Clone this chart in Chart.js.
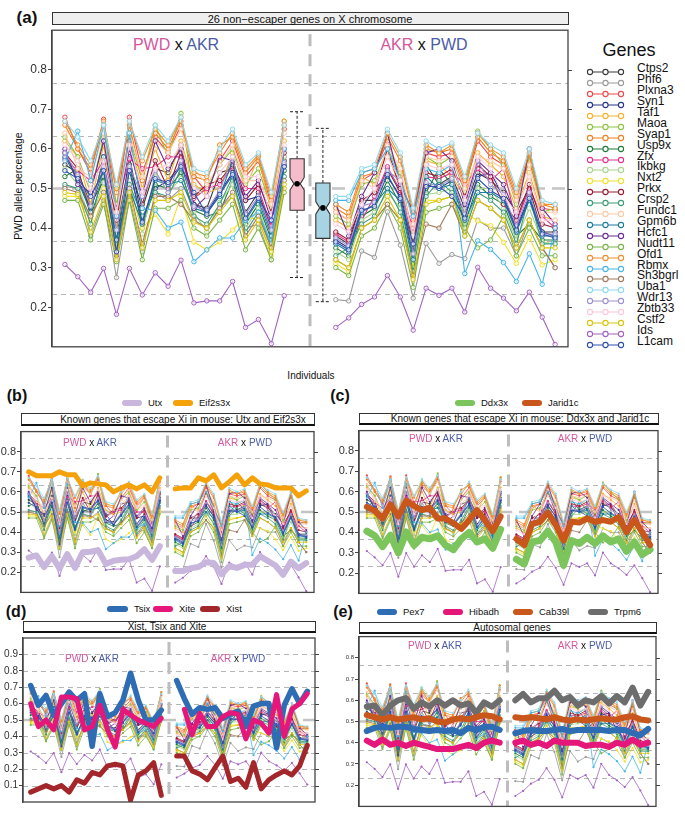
<!DOCTYPE html>
<html>
<head>
<meta charset="utf-8">
<script src="https://cdn.jsdelivr.net/npm/chart.js@4.4.1/dist/chart.umd.min.js"></script>
<style>
  body { margin: 0; background: #fff; font-family: "Liberation Sans", Arial, sans-serif; }
  #page { position: relative; width: 685px; height: 818px; overflow: hidden; background: #fff; }
  canvas { position: absolute; }
  .t { position: absolute; white-space: nowrap; transform: translate(-50%, -50%); color: #111; line-height: 1; }
  .l { position: absolute; white-space: nowrap; transform: translate(0, -50%); color: #111; line-height: 1; }
  .strip { position: absolute; box-sizing: border-box; border: 1px solid #333; }
  .sw { position: absolute; border-radius: 3px; }
</style>
</head>
<body>
<div id="page"></div>
<script>
// ---- data ----
const genes = ['Ctps2','Phf6','Plxna3','Syn1','Taf1','Maoa','Syap1','Usp9x','Zfx','Ikbkg','Nxt2','Prkx','Crsp2',
  'Fundc1','Gpm6b','Hcfc1','Nudt11','Ofd1','Rbmx','Sh3bgrl','Uba1','Wdr13','Zbtb33','Cstf2','Ids','L1cam'];
const geneColors = ['#3a3a3a','#9a9a9a','#f0484a','#27358a','#f6b22c','#8cc43f','#f0801f','#1f7a36','#e8318a',
  '#a8d48c','#f2e02a','#9a1c32','#3d9b78','#fcc9a2','#1a7d9e','#6b2c91','#78b545','#f08d2c','#45b5e8','#a27a5b',
  '#8fd9ee','#9d90d1','#f9c9d9','#d9c40a','#a262c0','#2f4fb0'];

// 18 PWD x AKR individuals, then 18 AKR x PWD individuals
const ctps2   = [.56,.54,.46,.52,.40,.56,.45,.55,.54,.61,.46,.45,.54,.55,.44,.49,.40,.57, .38,.36,.47,.47,.55,.49,.34,.56,.51,.53,.45,.54,.52,.49,.44,.50,.39,.39];
const phf6    = [.505,.50,.38,.47,.275,.475,.34,.49,.47,.50,.42,.40,.45,.48,.40,.41,.32,.50, .219,.216,.342,.326,.441,.357,.223,.361,.311,.333,.323,.42,.40,.40,.33,.42,.35,.30];
const plxna3  = [.68,.60,.54,.675,.45,.68,.54,.63,.59,.66,.53,.49,.57,.62,.53,.57,.46,.65, .44,.42,.52,.54,.62,.53,.42,.59,.58,.59,.50,.62,.58,.56,.47,.57,.45,.445];
const syn1    = [.59,.52,.45,.55,.37,.58,.42,.50,.52,.56,.46,.44,.49,.54,.47,.48,.39,.56, .37,.35,.45,.50,.53,.48,.33,.51,.50,.52,.43,.53,.54,.48,.40,.48,.39,.38];
const taf1    = [.62,.58,.46,.61,.40,.62,.50,.60,.52,.62,.51,.49,.50,.59,.50,.58,.44,.62, .42,.40,.53,.51,.59,.50,.39,.57,.56,.53,.48,.59,.56,.53,.45,.54,.43,.42];
const maoa    = [.63,.58,.49,.63,.46,.63,.52,.66,.58,.69,.48,.50,.56,.60,.51,.55,.45,.67, .43,.41,.51,.52,.60,.54,.37,.58,.56,.58,.49,.645,.60,.56,.46,.58,.44,.45];
const syap1   = [.66,.60,.55,.66,.49,.66,.52,.64,.60,.67,.53,.52,.61,.63,.54,.58,.47,.66, .45,.43,.53,.54,.63,.57,.43,.60,.59,.60,.51,.63,.59,.57,.48,.585,.46,.45];
const usp9x   = [.53,.55,.43,.53,.36,.56,.40,.51,.50,.54,.445,.43,.44,.52,.41,.46,.37,.545, .35,.33,.43,.45,.52,.46,.31,.49,.55,.51,.41,.51,.48,.46,.38,.41,.37,.37];
const zfx     = [.575,.545,.52,.57,.45,.575,.55,.555,.58,.58,.475,.50,.51,.555,.50,.50,.405,.58, .385,.365,.42,.48,.555,.495,.40,.53,.525,.54,.51,.55,.52,.55,.415,.50,.43,.40];
const ikbkg   = [.55,.51,.42,.515,.35,.52,.385,.54,.49,.525,.44,.39,.465,.51,.40,.45,.36,.58, .34,.32,.42,.44,.49,.45,.30,.485,.49,.50,.40,.50,.50,.45,.37,.45,.365,.36];
const nxt2    = [.48,.48,.42,.50,.34,.50,.40,.435,.385,.48,.365,.345,.365,.395,.43,.42,.33,.50, .31,.29,.40,.42,.46,.42,.30,.47,.47,.48,.44,.418,.406,.364,.311,.376,.307,.32];
const prkx    = [.59,.55,.44,.58,.42,.62,.46,.57,.50,.59,.48,.51,.52,.56,.47,.51,.44,.59, .39,.37,.47,.49,.60,.50,.36,.54,.53,.55,.48,.56,.53,.46,.42,.51,.41,.40];
const crsp2   = [.51,.50,.41,.55,.34,.51,.43,.49,.48,.55,.43,.41,.46,.53,.39,.44,.35,.53, .33,.35,.41,.43,.50,.44,.29,.48,.52,.49,.39,.49,.47,.44,.36,.48,.36,.36];
const fundc1  = [.64,.55,.53,.64,.44,.64,.53,.62,.59,.65,.55,.51,.56,.61,.52,.52,.46,.64, .44,.42,.52,.50,.61,.55,.41,.58,.57,.58,.50,.58,.57,.55,.47,.56,.44,.44];
const gpm6b   = [.58,.52,.44,.58,.37,.50,.41,.52,.51,.52,.45,.44,.48,.57,.42,.47,.38,.555, .36,.34,.44,.46,.50,.47,.32,.53,.50,.51,.42,.49,.49,.47,.39,.47,.38,.38];
const hcfc1   = [.60,.51,.49,.62,.43,.60,.48,.62,.55,.60,.45,.48,.58,.57,.48,.52,.42,.60, .46,.38,.48,.54,.64,.51,.44,.59,.60,.57,.46,.57,.54,.51,.43,.60,.45,.41];
const nudt11  = [.47,.47,.37,.46,.315,.47,.32,.45,.45,.47,.40,.38,.42,.46,.345,.40,.32,.49, .30,.28,.38,.40,.46,.40,.25,.44,.45,.46,.40,.35,.37,.43,.33,.40,.33,.33];
const ofd1    = [.67,.61,.56,.67,.50,.67,.57,.65,.61,.68,.54,.53,.59,.64,.55,.585,.48,.67, .46,.44,.54,.55,.64,.58,.44,.61,.59,.61,.52,.64,.60,.58,.49,.59,.46,.46];
const rbmx    = [.57,.645,.52,.66,.43,.64,.45,.445,.40,.415,.315,.345,.375,.375,.42,.44,.36,.60, .47,.47,.54,.55,.60,.52,.43,.55,.54,.56,.285,.368,.346,.313,.265,.335,.258,.40];
const sh3bgrl = [.50,.49,.43,.49,.33,.50,.36,.48,.48,.46,.42,.40,.45,.49,.38,.43,.35,.52, .32,.30,.40,.42,.46,.42,.28,.41,.40,.46,.38,.47,.45,.42,.35,.42,.35,.30];
const uba1    = [.67,.63,.57,.66,.51,.67,.58,.66,.62,.68,.55,.54,.60,.65,.56,.59,.49,.66, .48,.48,.55,.56,.65,.59,.45,.62,.60,.615,.53,.64,.61,.59,.50,.60,.47,.46];
const wdr13   = [.59,.535,.455,.555,.395,.555,.48,.545,.49,.57,.455,.445,.495,.58,.435,.48,.395,.565, .375,.355,.455,.465,.545,.52,.335,.515,.505,.525,.435,.57,.51,.485,.405,.49,.385,.385];
const zbtb33  = [.61,.57,.50,.57,.44,.61,.49,.55,.56,.61,.50,.48,.54,.58,.53,.53,.43,.61, .41,.39,.46,.50,.58,.52,.38,.56,.55,.56,.47,.58,.55,.48,.44,.53,.42,.42];
const cstf2   = [.49,.485,.39,.48,.32,.49,.35,.47,.47,.49,.415,.40,.44,.48,.37,.42,.34,.51, .32,.30,.40,.42,.48,.42,.27,.46,.47,.48,.38,.47,.45,.42,.35,.42,.35,.35];
const ids     = [.308,.277,.238,.298,.182,.298,.231,.287,.253,.319,.211,.216,.216,.265,.149,.169,.108,.229, .149,.173,.207,.226,.28,.226,.142,.248,.23,.248,.188,.301,.248,.223,.191,.238,.175,.106];
const l1cam   = [.545,.525,.48,.545,.34,.545,.415,.525,.515,.555,.49,.435,.485,.535,.425,.475,.42,.555, .365,.345,.445,.455,.535,.475,.36,.505,.505,.48,.425,.525,.495,.475,.395,.475,.385,.375];
const geneValues = [ctps2, phf6, plxna3, syn1, taf1, maoa, syap1, usp9x, zfx, ikbkg, nxt2, prkx, crsp2,
  fundc1, gpm6b, hcfc1, nudt11, ofd1, rbmx, sh3bgrl, uba1, wdr13, zbtb33, cstf2, ids, l1cam];

// boxplots of all genes: min, q1, median, q3, max
const pwdAkrBox = [0.275, 0.445, 0.512, 0.575, 0.694];
const akrPwdBox = [0.214, 0.374, 0.451, 0.514, 0.652];

// highlighted genes
const utx     = [.273,.284,.226,.28,.22,.29,.222,.30,.302,.31,.242,.257,.262,.265,.28,.315,.262,.33, .206,.206,.22,.226,.25,.246,.19,.23,.222,.237,.237,.28,.257,.234,.188,.253,.22,.246];
const eif2s3x = [.70,.68,.68,.68,.70,.685,.685,.63,.645,.64,.635,.60,.62,.635,.615,.635,.60,.67, .615,.62,.62,.67,.655,.685,.62,.65,.685,.635,.67,.64,.635,.62,.62,.62,.58,.605];
const ddx3x   = [.406,.383,.33,.386,.30,.402,.337,.376,.368,.383,.337,.315,.368,.40,.353,.368,.322,.414, .268,.245,.353,.36,.406,.353,.238,.36,.345,.376,.345,.383,.353,.368,.307,.353,.291,.315];
const jarid1c = [.525,.506,.468,.537,.478,.555,.529,.509,.521,.468,.468,.445,.417,.46,.509,.46,.406,.478, .368,.337,.442,.452,.498,.437,.36,.452,.448,.468,.452,.46,.452,.475,.40,.46,.40,.337];
const tsix    = [.71,.59,.65,.53,.60,.67,.62,.66,.34,.66,.52,.545,.62,.785,.62,.50,.50,.56, .74,.63,.535,.575,.565,.575,.51,.535,.555,.46,.585,.60,.60,.33,.59,.69,.60,.675];
const xite    = [.60,.46,.50,.44,.64,.64,.63,.44,.46,.59,.44,.335,.565,.53,.50,.48,.46,.51, null,.565,.41,.54,.46,.46,.52,.545,.535,.385,.50,.48,.42,.655,.40,.565,.60,.66];
const xist    = [.06,.08,.10,.08,.10,.06,.135,.115,.18,.165,.22,.23,.22,.01,.165,.19,.24,.04, .28,.28,.19,.17,.135,.21,.28,.125,.145,.09,.24,.08,.135,.165,.19,.165,.22,.345];
const pex7    = [.455,.47,.475,.47,.475,.475,.465,.46,.455,.46,.455,.46,.445,.47,.46,.475,.475,.46, .445,.455,.46,.455,.455,.46,.465,.455,.46,.46,.46,.46,.455,.46,.46,.445,.435,.465];
const hibadh  = [.41,.39,.415,.39,.40,.385,.40,.39,.38,.37,.37,.37,.38,.39,.375,.40,.41,.40, .40,.41,.39,.40,.385,.41,.40,.40,.40,.385,.39,.39,.38,.40,.39,.415,.39,.40];
const cab39l  = [.53,.52,.51,.52,.51,.515,.52,.51,.515,.50,.495,.51,.515,.51,.52,.53,.525,.51, .52,.515,.52,.515,.51,.52,.51,.505,.51,.505,.51,.515,.51,.51,.52,.525,.51,.505];
const trpm6   = [.57,.575,.53,.575,.60,.61,.56,.59,.57,.60,.575,.60,.575,.585,.54,.59,.57,.60, .60,.63,.59,.61,.61,.645,.60,.615,.575,.60,.59,.62,.585,.62,.59,.66,.575,.64];

const yTicks = [0.2, 0.3, 0.4, 0.5, 0.6, 0.7, 0.8];
const yTicksD = [0.1, 0.2, 0.3, 0.4, 0.5, 0.6, 0.7, 0.8, 0.9];
const refLines = [0.233, 0.367, 0.633, 0.767];
const refLinesD = [0.1, 0.2, 0.3, 0.4, 0.6, 0.7, 0.8, 0.9];

// ---- helpers ----
const page = document.getElementById('page');
const FONT = '"Liberation Sans", Arial, sans-serif';

function text(html, x, y, size, cls, extra) {
  const d = document.createElement('div');
  d.className = cls || 't';
  d.style.left = x + 'px';
  d.style.top = y + 'px';
  d.style.fontSize = size + 'px';
  d.innerHTML = html;
  if (extra) Object.assign(d.style, extra);
  page.appendChild(d);
  return d;
}

function strip(x, y, w, h, bg, thick) {
  const d = document.createElement('div');
  d.className = 'strip';
  Object.assign(d.style, { left: x + 'px', top: y + 'px', width: w + 'px', height: h + 'px', background: bg });
  if (thick) d.style.borderBottom = '2px solid #111';
  page.appendChild(d);
}

function swatch(x, y, w, color, label, size) {
  const s = document.createElement('div');
  s.className = 'sw';
  Object.assign(s.style, { left: x + 'px', top: (y - 3) + 'px', width: w + 'px', height: '6px', background: color });
  page.appendChild(s);
  text(label, x + w + 6, y, size, 'l');
}

const PINK = '#d4579c', BLUE = '#4a5ca8';
const pwdAkr = `<span style="color:${PINK}">PWD</span> x <span style="color:${BLUE}">AKR</span>`;
const akrPwd = `<span style="color:${PINK}">AKR</span> x <span style="color:${BLUE}">PWD</span>`;

function toPoints(vals, rightStart) {
  const pts = [];
  vals.forEach((v, i) => {
    if (i === 18) pts.push({ x: rightStart - 1, y: null });
    pts.push({ x: i < 18 ? i + 1 : rightStart + i - 18, y: v });
  });
  return pts;
}

function bundle(rightStart, big) {
  return genes.map((g, k) => ({
    label: g,
    data: toPoints(geneValues[k], rightStart),
    borderColor: geneColors[k],
    borderWidth: big ? 1.1 : 0.8,
    pointRadius: big ? 2.2 : 1.1,
    pointBorderWidth: big ? 1 : 0,
    pointBorderColor: geneColors[k],
    pointBackgroundColor: big ? 'rgba(255,255,255,0.65)' : geneColors[k],
    spanGaps: false
  })).reverse();
}

function thick(label, vals, color, w, rightStart) {
  return {
    label, data: toPoints(vals, rightStart), borderColor: color, borderWidth: w,
    pointRadius: 0, borderJoinStyle: 'round', borderCapStyle: 'round', spanGaps: false
  };
}

function hline(ctx, x1, y1, x2, y2) {
  ctx.beginPath(); ctx.moveTo(x1, y1); ctx.lineTo(x2, y2); ctx.stroke();
}

const decor = {
  id: 'decor',
  beforeDatasetsDraw(chart, args, o) {
    const { ctx, chartArea: a, scales: { x, y } } = chart;
    ctx.save();
    ctx.beginPath(); ctx.rect(a.left, a.top, a.right - a.left, a.bottom - a.top); ctx.clip();
    ctx.strokeStyle = '#b5b5b5'; ctx.lineWidth = 1; ctx.setLineDash([5, 4]);
    o.refLines.forEach(v => {
      const py = Math.round(y.getPixelForValue(v)) + 0.5;
      hline(ctx, a.left, py, a.right, py);
    });
    ctx.strokeStyle = '#c4c4c4'; ctx.lineWidth = 2.6; ctx.setLineDash([13, 7]);
    const my = y.getPixelForValue(0.5);
    hline(ctx, a.left, my, a.right, my);
    ctx.strokeStyle = '#bdbdbd'; ctx.lineWidth = 3; ctx.setLineDash([12, 8]);
    const dx = x.getPixelForValue(o.divider);
    hline(ctx, dx, a.top + 4, dx, a.bottom);
    ctx.restore();
  },
  afterDatasetsDraw(chart, args, o) {
    const { ctx, chartArea: a, scales: { x, y } } = chart;
    ctx.save();
    (o.boxes || []).forEach(b => {
      const cx = x.getPixelForValue(b.slot);
      const hw = x.getPixelForValue(b.slot + 0.55) - cx;
      const [mn, q1, md, q3, mx] = b.stats.map(v => y.getPixelForValue(v));
      const n1 = y.getPixelForValue(b.stats[2] + 0.016), n2 = y.getPixelForValue(b.stats[2] - 0.016);
      ctx.strokeStyle = '#222'; ctx.lineWidth = 1; ctx.setLineDash([3, 2]);
      hline(ctx, cx, q3, cx, mx); hline(ctx, cx, q1, cx, mn);
      hline(ctx, cx - hw, mx, cx + hw, mx); hline(ctx, cx - hw, mn, cx + hw, mn);
      ctx.setLineDash([]);
      ctx.beginPath();
      ctx.moveTo(cx - hw, q3); ctx.lineTo(cx + hw, q3); ctx.lineTo(cx + hw, n1); ctx.lineTo(cx + hw * 0.45, md);
      ctx.lineTo(cx + hw, n2); ctx.lineTo(cx + hw, q1); ctx.lineTo(cx - hw, q1); ctx.lineTo(cx - hw, n2);
      ctx.lineTo(cx - hw * 0.45, md); ctx.lineTo(cx - hw, n1); ctx.closePath();
      ctx.fillStyle = b.fill; ctx.fill(); ctx.strokeStyle = '#333'; ctx.lineWidth = 1.1; ctx.stroke();
      ctx.beginPath(); ctx.arc(cx, md, 2.8, 0, Math.PI * 2); ctx.fillStyle = '#000'; ctx.fill();
    });
    ctx.strokeStyle = '#444'; ctx.lineWidth = 1.3; ctx.setLineDash([]);
    ctx.strokeRect(a.left, a.top, a.right - a.left, a.bottom - a.top);
    ctx.lineWidth = 1;
    o.ticks.forEach(v => {
      const py = Math.round(y.getPixelForValue(v)) + 0.5;
      hline(ctx, a.right, py, a.right + 4, py);
    });
    ctx.restore();
  }
};

function makePanel(p) {
  const PT = 2, PR = 6, PB = 2;
  const W = p.axisW + p.w + PR, H = p.h + PT + PB;
  const c = document.createElement('canvas');
  c.width = W; c.height = H;
  Object.assign(c.style, { left: (p.left - p.axisW) + 'px', top: (p.top - PT) + 'px', width: W + 'px', height: H + 'px' });
  page.appendChild(c);
  new Chart(c, {
    type: 'line',
    data: { datasets: p.datasets },
    options: {
      responsive: false, animation: false, events: [],
      layout: { padding: { top: PT, right: PR, bottom: PB, left: 0 } },
      plugins: {
        legend: { display: false }, tooltip: { enabled: false },
        decor: { refLines: p.refLines, divider: p.divider, boxes: p.boxes, ticks: p.ticks }
      },
      scales: {
        x: { type: 'linear', min: 0, max: p.xMax, display: false },
        y: {
          min: p.yMin, max: p.yMax,
          afterFit: s => { s.width = p.axisW; },
          afterBuildTicks: s => { s.ticks = p.ticks.map(v => ({ value: v })); },
          ticks: { font: { family: FONT, size: p.tickSize }, color: '#333', padding: 1, callback: v => v.toFixed(1) },
          grid: { drawOnChartArea: false, drawTicks: true, tickLength: 4, color: '#444' },
          border: { display: true, color: '#444', width: 1.3 }
        }
      }
    },
    plugins: [decor]
  });
}

// ---- panel (a) ----
text('<b>(a)</b>', 27, 17, 17);
strip(52, 12, 517, 13, '#eeeeee');
text('26 non−escaper genes on X chromosome', 310, 18.5, 11);
text(pwdAkr, 176, 45, 16);
text(akrPwd, 424, 45, 16);
text('PWD allele percentage', 18, 186, 10.5, 't', { transform: 'translate(-50%,-50%) rotate(-90deg)' });
text('Individuals', 311, 376, 10);
makePanel({
  left: 52, top: 24, w: 516, h: 329, axisW: 38, xMax: 40, divider: 20, yMin: 0.1, yMax: 0.9,
  ticks: yTicks, tickSize: 12, refLines,
  boxes: [{ slot: 19, stats: pwdAkrBox, fill: '#f5bccb' }, { slot: 21, stats: akrPwdBox, fill: '#a8d3e3' }],
  datasets: bundle(22, true)
});
text('Genes', 629, 50, 18);
genes.forEach((g, k) => {
  const y = 68.3 + k * 10.9;
  const c = geneColors[k];
  const s = document.createElement('div');
  s.style.position = 'absolute'; s.style.left = '586px'; s.style.top = (y - 5) + 'px';
  s.innerHTML = `<svg width="40" height="10"><line x1="3" y1="5" x2="36" y2="5" stroke="${c}" stroke-width="1.2"/>` +
    [4, 19.5, 35].map(cx => `<circle cx="${cx}" cy="5" r="2.6" fill="#fff" stroke="${c}" stroke-width="1.1"/>`).join('') + '</svg>';
  page.appendChild(s);
  text(g, 637, y, 12, 'l');
});

// ---- panel (b) ----
text('<b>(b)</b>', 17, 396, 16);
swatch(122, 403, 20, '#c8b6dd', 'Utx', 9.5);
swatch(173, 403, 20, '#f5a10a', 'Eif2s3x', 9.5);
strip(21, 413, 294, 13, '#fff', true);
text('Known genes that escape Xi in mouse: Utx and Eif2s3x', 183, 419.5, 10);
makePanel({
  left: 21, top: 426, w: 293, h: 172, axisW: 21, xMax: 38, divider: 19, yMin: 0.1, yMax: 0.9,
  ticks: yTicks, tickSize: 11, refLines,
  datasets: [thick('Utx', utx, '#c8b6dd', 6, 20), thick('Eif2s3x', eif2s3x, '#f5a10a', 5, 20)].concat(bundle(20, false))
});
text(pwdAkr, 90, 443, 10);
text(akrPwd, 245, 443, 10);

// ---- panel (c) ----
text('<b>(c)</b>', 340, 396, 16);
swatch(455, 403, 20, '#7cc55c', 'Ddx3x', 9.5);
swatch(522, 403, 20, '#c9561b', 'Jarid1c', 9.5);
strip(359, 413, 300, 12, '#fff', true);
text('Known genes that escape Xi in mouse: Ddx3x and Jarid1c', 520, 419, 10);
makePanel({
  left: 359, top: 425, w: 299, h: 174, axisW: 21, xMax: 38, divider: 19, yMin: 0.1, yMax: 0.9,
  ticks: yTicks, tickSize: 11, refLines,
  datasets: [thick('Jarid1c', jarid1c, '#c9561b', 6, 20), thick('Ddx3x', ddx3x, '#7cc55c', 7, 20)].concat(bundle(20, false))
});
text(pwdAkr, 436, 439, 10);
text(akrPwd, 585, 439, 10);

// ---- panel (d) ----
text('<b>(d)</b>', 16, 612, 16);
swatch(107, 609, 21, '#2e6cb3', 'Tsix', 9.5);
swatch(153, 609, 20, '#e5177a', 'Xite', 9.5);
swatch(200, 609, 20, '#a3262a', 'Xist', 9.5);
strip(23, 621, 293, 12, '#fff', true);
text('Xist, Tsix and Xite', 167, 627, 10);
makePanel({
  left: 23, top: 633, w: 292, h: 174, axisW: 22, xMax: 38, divider: 19, yMin: 0, yMax: 1,
  ticks: yTicksD, tickSize: 10, refLines: refLinesD,
  datasets: [thick('Xite', xite, '#e5177a', 5, 20), thick('Tsix', tsix, '#2e6cb3', 5.5, 20),
    thick('Xist', xist, '#a3262a', 5, 20)].concat(bundle(20, false))
});
text(pwdAkr, 92, 659, 10);
text(akrPwd, 238, 659, 10);

// ---- panel (e) ----
text('<b>(e)</b>', 343, 612, 16);
swatch(377, 612, 20, '#2e6cb3', 'Pex7', 9.5);
swatch(443, 612, 20, '#e5177a', 'Hibadh', 9.5);
swatch(513, 612, 20, '#c9561b', 'Cab39l', 9.5);
swatch(588, 612, 20, '#6d6d6d', 'Trpm6', 9.5);
strip(359, 622, 298, 12, '#fff', true);
text('Autosomal genes', 512, 628, 10);
makePanel({
  left: 359, top: 634, w: 297, h: 175, axisW: 14, xMax: 38, divider: 19, yMin: 0.1, yMax: 0.9,
  ticks: yTicks, tickSize: 6, refLines,
  datasets: [thick('Hibadh', hibadh, '#e5177a', 6, 20), thick('Pex7', pex7, '#2e6cb3', 6, 20),
    thick('Cab39l', cab39l, '#c9561b', 6, 20), thick('Trpm6', trpm6, '#6d6d6d', 6, 20)].concat(bundle(20, false))
});
text(pwdAkr, 435, 646, 10);
text(akrPwd, 585, 646, 10);
</script>
</body>
</html>
